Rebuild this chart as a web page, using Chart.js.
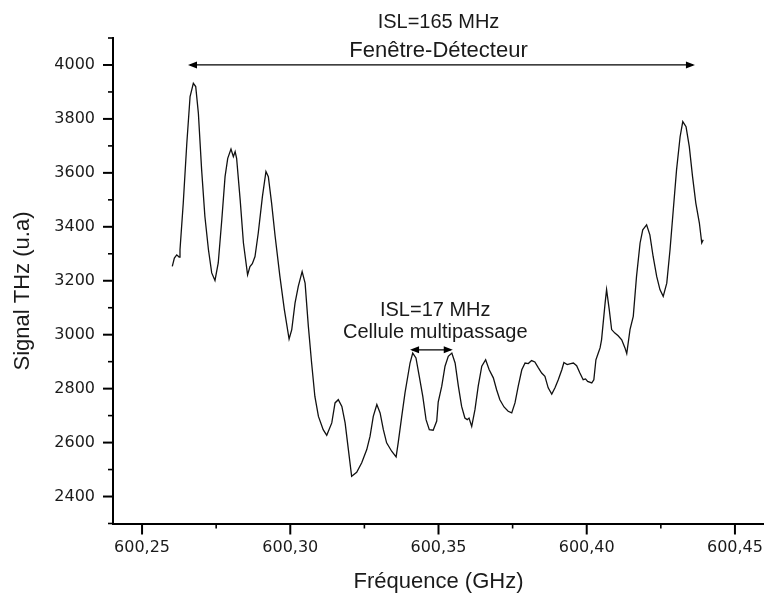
<!DOCTYPE html>
<html>
<head>
<meta charset="utf-8">
<script src="https://cdn.jsdelivr.net/npm/chart.js@4/dist/chart.umd.min.js"></script>
<style>
  body { margin: 0; background: #fff; }
  #wrap { width: 764px; height: 595px; }
</style>
</head>
<body>
<div id="wrap"><canvas id="c"></canvas></div>
<script>
// frequency (GHz) and THz signal (u.a)
const freq = [
  600.2602, 600.2609, 600.2617, 600.2625, 600.2628, 600.2639, 600.2651, 600.2662, 600.2673, 600.2681,
  600.2690, 600.2701, 600.2712, 600.2724, 600.2735, 600.2746, 600.2757, 600.2769, 600.2780, 600.2789,
  600.2800, 600.2808, 600.2814, 600.2819, 600.2831, 600.2842, 600.2856, 600.2864, 600.2872, 600.2881,
  600.2892, 600.2906, 600.2918, 600.2926, 600.2937, 600.2949, 600.2965, 600.2980, 600.2996, 600.3005,
  600.3016, 600.3027, 600.3040, 600.3050, 600.3061, 600.3072, 600.3083, 600.3095, 600.3111, 600.3123,
  600.3140, 600.3151, 600.3162, 600.3174, 600.3185, 600.3196, 600.3207, 600.3224, 600.3241, 600.3258,
  600.3269, 600.3280, 600.3292, 600.3303, 600.3314, 600.3325, 600.3342, 600.3357, 600.3364, 600.3376,
  600.3387, 600.3404, 600.3413, 600.3424, 600.3435, 600.3447, 600.3458, 600.3469, 600.3482, 600.3494,
  600.3499, 600.3511, 600.3522, 600.3533, 600.3545, 600.3556, 600.3567, 600.3578, 600.3589, 600.3597,
  600.3603, 600.3612, 600.3623, 600.3634, 600.3646, 600.3659, 600.3671, 600.3685, 600.3696, 600.3707,
  600.3721, 600.3735, 600.3747, 600.3758, 600.3769, 600.3781, 600.3792, 600.3803, 600.3814, 600.3825,
  600.3837, 600.3848, 600.3859, 600.3870, 600.3882, 600.3893, 600.3904, 600.3916, 600.3923, 600.3934,
  600.3946, 600.3955, 600.3966, 600.3977, 600.3988, 600.3996, 600.4003, 600.4017, 600.4024, 600.4031,
  600.4039, 600.4045, 600.4050, 600.4062, 600.4067, 600.4076, 600.4084, 600.4095, 600.4106, 600.4118,
  600.4129, 600.4135, 600.4146, 600.4157, 600.4168, 600.4180, 600.4189, 600.4202, 600.4213, 600.4224,
  600.4236, 600.4247, 600.4258, 600.4270, 600.4281, 600.4292, 600.4303, 600.4315, 600.4324, 600.4335,
  600.4346, 600.4357, 600.4368, 600.4380, 600.4388, 600.4393
];
const signal = [
  3253, 3284, 3296, 3288, 3315, 3488, 3710, 3883, 3932, 3920,
  3821, 3611, 3438, 3315, 3229, 3201, 3266, 3426, 3586, 3654,
  3688, 3660, 3679, 3654, 3500, 3340, 3222, 3253, 3263, 3290,
  3377, 3512, 3605, 3586, 3488, 3364, 3216, 3093, 2984, 3019,
  3117, 3179, 3234, 3191, 3031, 2895, 2771, 2697, 2648, 2627,
  2673, 2747, 2759, 2734, 2673, 2574, 2475, 2490, 2525, 2574,
  2623, 2697, 2741, 2710, 2648, 2599, 2568, 2547, 2599, 2697,
  2784, 2895, 2932, 2914, 2846, 2771, 2685, 2648, 2646, 2680,
  2750, 2809, 2883, 2920, 2932, 2895, 2809, 2734, 2691, 2685,
  2691, 2660, 2722, 2809, 2883, 2907, 2870, 2840, 2796, 2759,
  2732, 2716, 2710, 2747, 2809, 2870, 2895, 2893, 2904, 2899,
  2877, 2858, 2846, 2803, 2780, 2803, 2833, 2870, 2897, 2889,
  2893, 2895, 2885, 2858, 2833, 2836, 2827, 2821, 2833, 2907,
  2932, 2951, 2981, 3117, 3167, 3093, 3019, 3006, 2996, 2981,
  2951, 2930, 3019, 3068, 3216, 3340, 3389, 3407, 3370, 3290,
  3216, 3167, 3142, 3191, 3315, 3463, 3611, 3734, 3790, 3771,
  3697, 3586, 3488, 3414, 3340, 3352
];

const xTicks = [600.25, 600.30, 600.35, 600.40, 600.45];
const xMinorTicks = [600.275, 600.325, 600.375, 600.425];
const yTicks = [2400, 2600, 2800, 3000, 3200, 3400, 3600, 3800, 4000];
const yMinorTicks = [2300, 2500, 2700, 2900, 3100, 3300, 3500, 3700, 3900, 4100];

// ISL annotations: [from, to] in GHz at a signal level
const islWide = { from: 600.2655, to: 600.4365, level: 4000, center: 600.35 };
const islNarrow = { from: 600.3404, to: 600.3548, level: 2944, center: 600.3489 };

const ink = '#1a1a1a';

function drawArrow(ctx, x1, x2, yy) {
  const len = 9, half = 3.5;
  ctx.beginPath();
  ctx.moveTo(x1 + 2, yy);
  ctx.lineTo(x2 - 2, yy);
  ctx.lineWidth = 1.2;
  ctx.stroke();
  ctx.beginPath();
  ctx.moveTo(x1, yy);
  ctx.lineTo(x1 + len, yy - half);
  ctx.lineTo(x1 + len, yy + half);
  ctx.closePath();
  ctx.fill();
  ctx.beginPath();
  ctx.moveTo(x2, yy);
  ctx.lineTo(x2 - len, yy - half);
  ctx.lineTo(x2 - len, yy + half);
  ctx.closePath();
  ctx.fill();
}

const decorations = {
  id: 'decorations',
  afterDraw(chart) {
    const { ctx, chartArea } = chart;
    const x = chart.scales.x, y = chart.scales.y;
    ctx.save();
    ctx.strokeStyle = '#000';
    ctx.fillStyle = '#000';

    // tick marks, pointing outwards
    const tick = (vals, len, w, horizontal) => {
      ctx.lineWidth = w;
      vals.forEach(v => {
        ctx.beginPath();
        if (horizontal) {
          const px = x.getPixelForValue(v);
          ctx.moveTo(px, chartArea.bottom);
          ctx.lineTo(px, chartArea.bottom + len);
        } else {
          const py = y.getPixelForValue(v);
          ctx.moveTo(chartArea.left, py);
          ctx.lineTo(chartArea.left - len, py);
        }
        ctx.stroke();
      });
    };
    tick(xTicks, 11, 2, true);
    tick(xMinorTicks, 5, 1.6, true);
    tick(yTicks, 10, 2, false);
    tick(yMinorTicks, 5, 1.6, false);

    // arrows
    const y1 = y.getPixelForValue(islWide.level);
    drawArrow(ctx, x.getPixelForValue(islWide.from), x.getPixelForValue(islWide.to), y1);
    const y2 = y.getPixelForValue(islNarrow.level);
    drawArrow(ctx, x.getPixelForValue(islNarrow.from), x.getPixelForValue(islNarrow.to), y2);

    // texts
    ctx.fillStyle = ink;
    ctx.textAlign = 'center';
    ctx.textBaseline = 'alphabetic';
    const cx1 = x.getPixelForValue(islWide.center);
    ctx.font = '20px "Liberation Sans", Arial, sans-serif';
    ctx.fillText('ISL=165 MHz', cx1, y1 - 37);
    ctx.font = '22px "Liberation Sans", Arial, sans-serif';
    ctx.fillText('Fenêtre-Détecteur', cx1, y1 - 8);
    const cx2 = x.getPixelForValue(islNarrow.center);
    ctx.font = '20px "Liberation Sans", Arial, sans-serif';
    ctx.fillText('ISL=17 MHz', cx2, y2 - 34);
    ctx.fillText('Cellule multipassage', cx2, y2 - 12);

    // y axis title
    ctx.font = '22px "Liberation Sans", Arial, sans-serif';
    ctx.textBaseline = 'middle';
    ctx.translate(23, 291);
    ctx.rotate(-Math.PI / 2);
    ctx.fillText('Signal THz (u.a)', 0, 0);
    ctx.restore();
  }
};

const tickFont = { family: '"DejaVu Sans", sans-serif', size: 16 };

new Chart(document.getElementById('c'), {
  type: 'line',
  data: {
    datasets: [{
      data: freq.map((f, i) => ({ x: f, y: signal[i] })),
      borderColor: '#111',
      borderWidth: 1.3,
      pointRadius: 0,
      tension: 0,
      fill: false
    }]
  },
  options: {
    responsive: true,
    maintainAspectRatio: false,
    animation: false,
    devicePixelRatio: 1,
    layout: { padding: { top: 38, left: 0, right: 0, bottom: 0 } },
    plugins: { legend: { display: false }, tooltip: { enabled: false } },
    scales: {
      x: {
        type: 'linear',
        min: 600.2402,
        max: 600.4598,
        afterBuildTicks: s => { s.ticks = xTicks.map(v => ({ value: v })); },
        afterFit: s => { s.height = 71.5; s.paddingLeft = 0; s.paddingRight = 0; },
        grid: { display: false, drawTicks: false },
        border: { display: true, width: 2, color: '#000' },
        ticks: {
          padding: 15,
          color: ink,
          font: tickFont,
          maxRotation: 0,
          autoSkip: false,
          callback: v => v.toFixed(2).replace('.', ',')
        },
        title: {
          display: true,
          text: 'Fréquence (GHz)',
          color: ink,
          font: { family: '"Liberation Sans", Arial, sans-serif', size: 22 },
          padding: { top: 0, bottom: 0 }
        }
      },
      y: {
        min: 2300,
        max: 4100,
        afterBuildTicks: s => { s.ticks = yTicks.map(v => ({ value: v })); },
        afterFit: s => { s.width = 113; s.paddingTop = 0; s.paddingBottom = 0; },
        grid: { display: false, drawTicks: false },
        border: { display: true, width: 2, color: '#000' },
        ticks: {
          padding: 18,
          color: ink,
          font: tickFont,
          autoSkip: false,
          callback: v => String(v)
        }
      }
    }
  },
  plugins: [decorations]
});
</script>
</body>
</html>
